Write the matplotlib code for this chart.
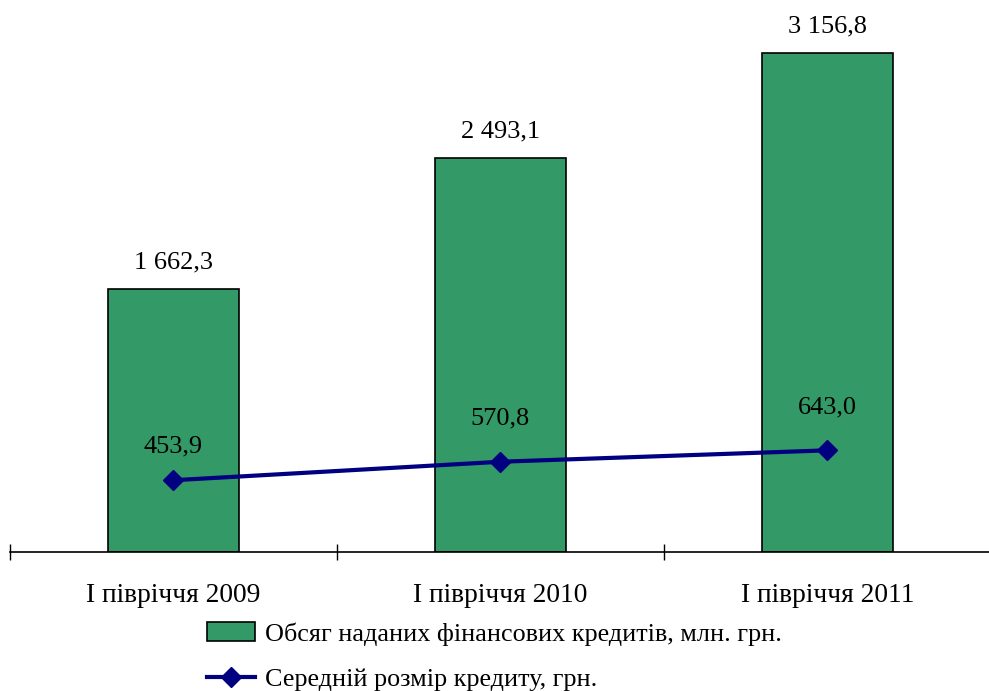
import numpy as np
import matplotlib
matplotlib.use("Agg")
import matplotlib.pyplot as plt

categories = ["І півріччя 2009", "І півріччя 2010", "І півріччя 2011"]
volume = [1662.3, 2493.1, 3156.8]          # млн. грн.
avg_size = [453.9, 570.8, 643.0]           # грн.
volume_labels = ["1 662,3", "2 493,1", "3 156,8"]
avg_labels = ["453,9", "570,8", "643,0"]
legend_labels = ["Обсяг наданих фінансових кредитів, млн. грн.",
                 "Середній розмір кредиту, грн."]

plt.rcParams["font.family"] = ["Liberation Serif", "DejaVu Serif"]

fig = plt.figure(figsize=(9.89, 6.91), dpi=100)
ax = fig.add_axes([10 / 989, 139 / 691, 981 / 989, 552 / 691])

x = np.arange(len(categories))
bars = ax.bar(x, volume, 0.4, color="#339966", edgecolor="black", lw=1.2,
              label=legend_labels[0], zorder=2)
line, = ax.plot(x, avg_size, color="#000080", lw=3, marker="D", ms=10,
                label=legend_labels[1], zorder=3)

for xi, v, s in zip(x, volume, volume_labels):
    ax.annotate(s, (xi, v), xytext=(0, 19), textcoords="offset points",
                ha="center", va="center", fontsize=19)
# label offsets above the markers, as in the source
off = [24, 31, 31]
for xi, v, s, o in zip(x, avg_size, avg_labels, off):
    ax.annotate(s, (xi, v), xytext=(0, o), textcoords="offset points",
                ha="center", va="center", fontsize=19)

ax.set_xlim(-0.5, 2.5)
ax.set_ylim(0, 3491)
for sp in ("top", "right", "left"):
    ax.spines[sp].set_visible(False)
ax.spines["bottom"].set_linewidth(1.2)
ax.set_yticks([])
ax.set_xticks([-0.5, 0.5, 1.5, 2.5])
ax.set_xticklabels([])
ax.set_xticks(x, minor=True)
ax.set_xticklabels(categories, minor=True, fontsize=19.8)
ax.tick_params(axis="x", which="major", direction="inout", length=11.5, width=1)
ax.tick_params(axis="x", which="minor", length=0, pad=22)

fig.legend(handles=[bars, line], labels=legend_labels, loc="upper left",
           bbox_to_anchor=(207 / 989, 1 - 622 / 691), frameon=False,
           fontsize=18.8, handlelength=1.84, handletextpad=0.38, labelspacing=0.84,
           borderpad=0, borderaxespad=0)

fig.savefig("out.png", dpi=100)
